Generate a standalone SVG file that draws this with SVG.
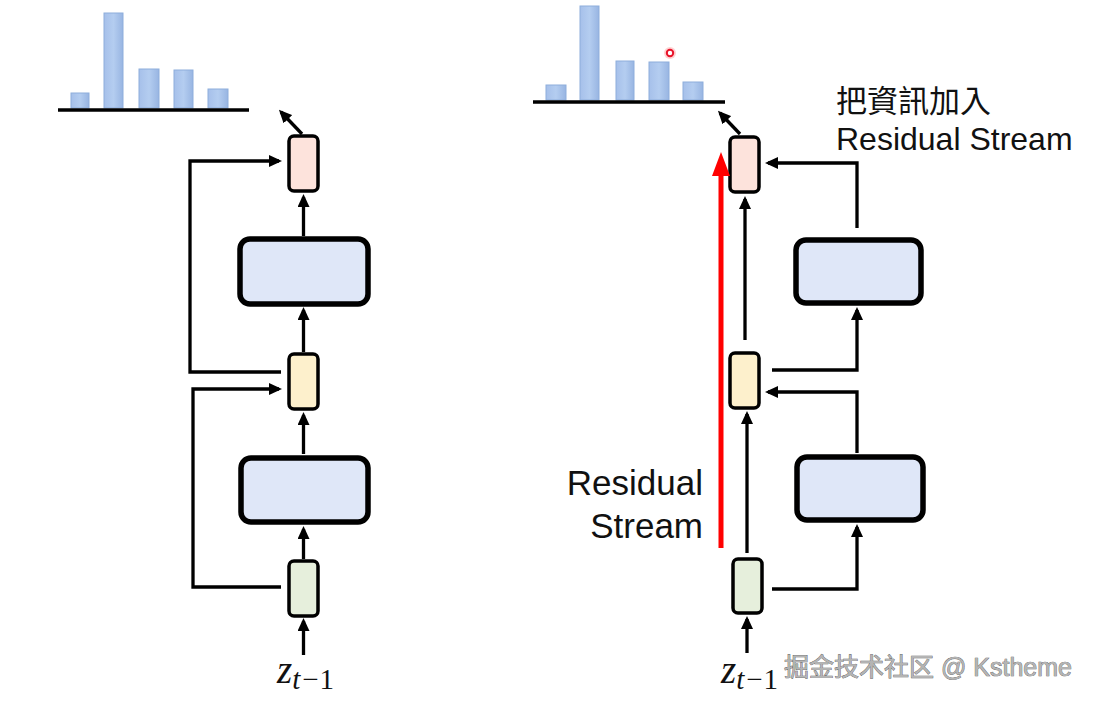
<svg xmlns="http://www.w3.org/2000/svg" width="1095" height="702" viewBox="0 0 1095 702">
<style>
.small{stroke:#000;stroke-width:3.5}
.big{stroke:#000;stroke-width:5.5;fill:#dfe7f8}
.pink{fill:#fde3dc}
.yellow{fill:#fdf0cc}
.green{fill:#e6efdc}
.bar{fill:url(#barg);stroke:#8eaedc;stroke-width:1}
.base{stroke:#000;stroke-width:3.5}
.conn path{fill:none;stroke:#000;stroke-width:3.3;marker-end:url(#ah)}
.lbl{font-family:"Liberation Sans","Noto Sans CJK TC",sans-serif;fill:#111}
.math{font-family:"Liberation Serif","DejaVu Serif",serif;font-style:italic;fill:#111}
.wm{font-family:"Liberation Sans","Noto Sans CJK SC",sans-serif;font-size:25px;fill:#b4b4b4;stroke:#555;stroke-width:0.7;paint-order:stroke}
</style>
<defs>
<linearGradient id="barg" x1="0" y1="0" x2="1" y2="0">
<stop offset="0" stop-color="#a6c0ea"/>
<stop offset="0.5" stop-color="#b4cdf0"/>
<stop offset="1" stop-color="#98b5e2"/>
</linearGradient>
<marker id="ah" markerUnits="userSpaceOnUse" markerWidth="13" markerHeight="12" viewBox="0 0 13 12" refX="10" refY="6" orient="auto">
<path d="M0,0 L13,6 L0,12 z" fill="#000"/>
</marker>
</defs>
<rect width="1095" height="702" fill="#fff"/>

<g id="chart-left">
<rect class="bar" x="71" y="93" width="18" height="15"/>
<rect class="bar" x="104" y="13" width="19" height="95"/>
<rect class="bar" x="139" y="69" width="20" height="39"/>
<rect class="bar" x="174" y="70" width="19" height="38"/>
<rect class="bar" x="208" y="89" width="20" height="19"/>
<line class="base" x1="58" y1="110" x2="249" y2="110"/>
</g>
<g id="chart-right">
<rect class="bar" x="546" y="85" width="20" height="15"/>
<rect class="bar" x="580" y="6" width="19" height="94"/>
<rect class="bar" x="616" y="61" width="18" height="39"/>
<rect class="bar" x="649" y="62" width="20" height="38"/>
<rect class="bar" x="683" y="82" width="20" height="18"/>
<line class="base" x1="533" y1="102" x2="725" y2="102"/>
<circle cx="670" cy="53" r="6" fill="#ff0000" opacity="0.18"/>
<circle cx="670" cy="53" r="3.2" fill="#fff" stroke="#e8142a" stroke-width="2"/>
</g>

<g id="L-pink"><rect class="small pink" x="289" y="136" width="29" height="55" rx="5"/></g>
<g id="L-blue-up"><rect class="big" x="240" y="239" width="128" height="65" rx="10"/></g>
<g id="L-yellow"><rect class="small yellow" x="289" y="354" width="29" height="55" rx="5"/></g>
<g id="L-blue-low"><rect class="big" x="241" y="458" width="127" height="64" rx="10"/></g>
<g id="L-green"><rect class="small green" x="289" y="561" width="29" height="55" rx="5"/></g>

<g id="R-pink"><rect class="small pink" x="730" y="137" width="29" height="55" rx="5"/></g>
<g id="R-blue-up"><rect class="big" x="796" y="240" width="125" height="63" rx="10"/></g>
<g id="R-yellow"><rect class="small yellow" x="730" y="353" width="29" height="55" rx="5"/></g>
<g id="R-blue-low"><rect class="big" x="797" y="457" width="126" height="63" rx="10"/></g>
<g id="R-green"><rect class="small green" x="733" y="559" width="29" height="54" rx="5"/></g>

<g id="connectors" class="conn">
<path d="M303.5,655 V621"/>
<path d="M303.5,559 V529"/>
<path d="M303.5,454 V415"/>
<path d="M303.5,352 V310"/>
<path d="M303.5,236 V197"/>
<path d="M302,134 L281,112"/>
<path d="M281,372 H190 V161 H279"/>
<path d="M281,587 H193 V389 H279"/>

<path d="M747,653 V619"/>
<path d="M747,553 V414"/>
<path d="M745,340 V199"/>
<path d="M740,134 L720,113"/>
<path d="M772,589 H857 V527"/>
<path d="M857,453 V392 H768"/>
<path d="M772,370 H857 V310"/>
<path d="M857,228 V163 H768"/>
<g id="residual-arrow">
<line x1="721" y1="548" x2="721" y2="172" stroke="#ff0000" stroke-width="5"/>
<polygon points="712,176 721,152 730,176" fill="#ff0000"/>
</g>
</g>

<g id="labels">
<text class="math" x="277" y="683" font-size="39">z<tspan font-size="29" dy="6">t</tspan><tspan font-size="29" font-style="normal" dx="2">−</tspan><tspan font-size="29" font-style="normal" dx="1">1</tspan></text>
<text class="math" x="721" y="683" font-size="39">z<tspan font-size="29" dy="6">t</tspan><tspan font-size="29" font-style="normal" dx="2">−</tspan><tspan font-size="29" font-style="normal" dx="1">1</tspan></text>
<text class="lbl" x="703" y="495" font-size="35" text-anchor="end">Residual</text>
<text class="lbl" x="703" y="538" font-size="35" text-anchor="end">Stream</text>
<text class="lbl" x="836" y="112" font-size="31">把資訊加入</text>
<text class="lbl" x="836" y="150" font-size="32">Residual Stream</text>
<text class="wm" x="784" y="676">掘金技术社区 @ Kstheme</text>
</g>
</svg>
